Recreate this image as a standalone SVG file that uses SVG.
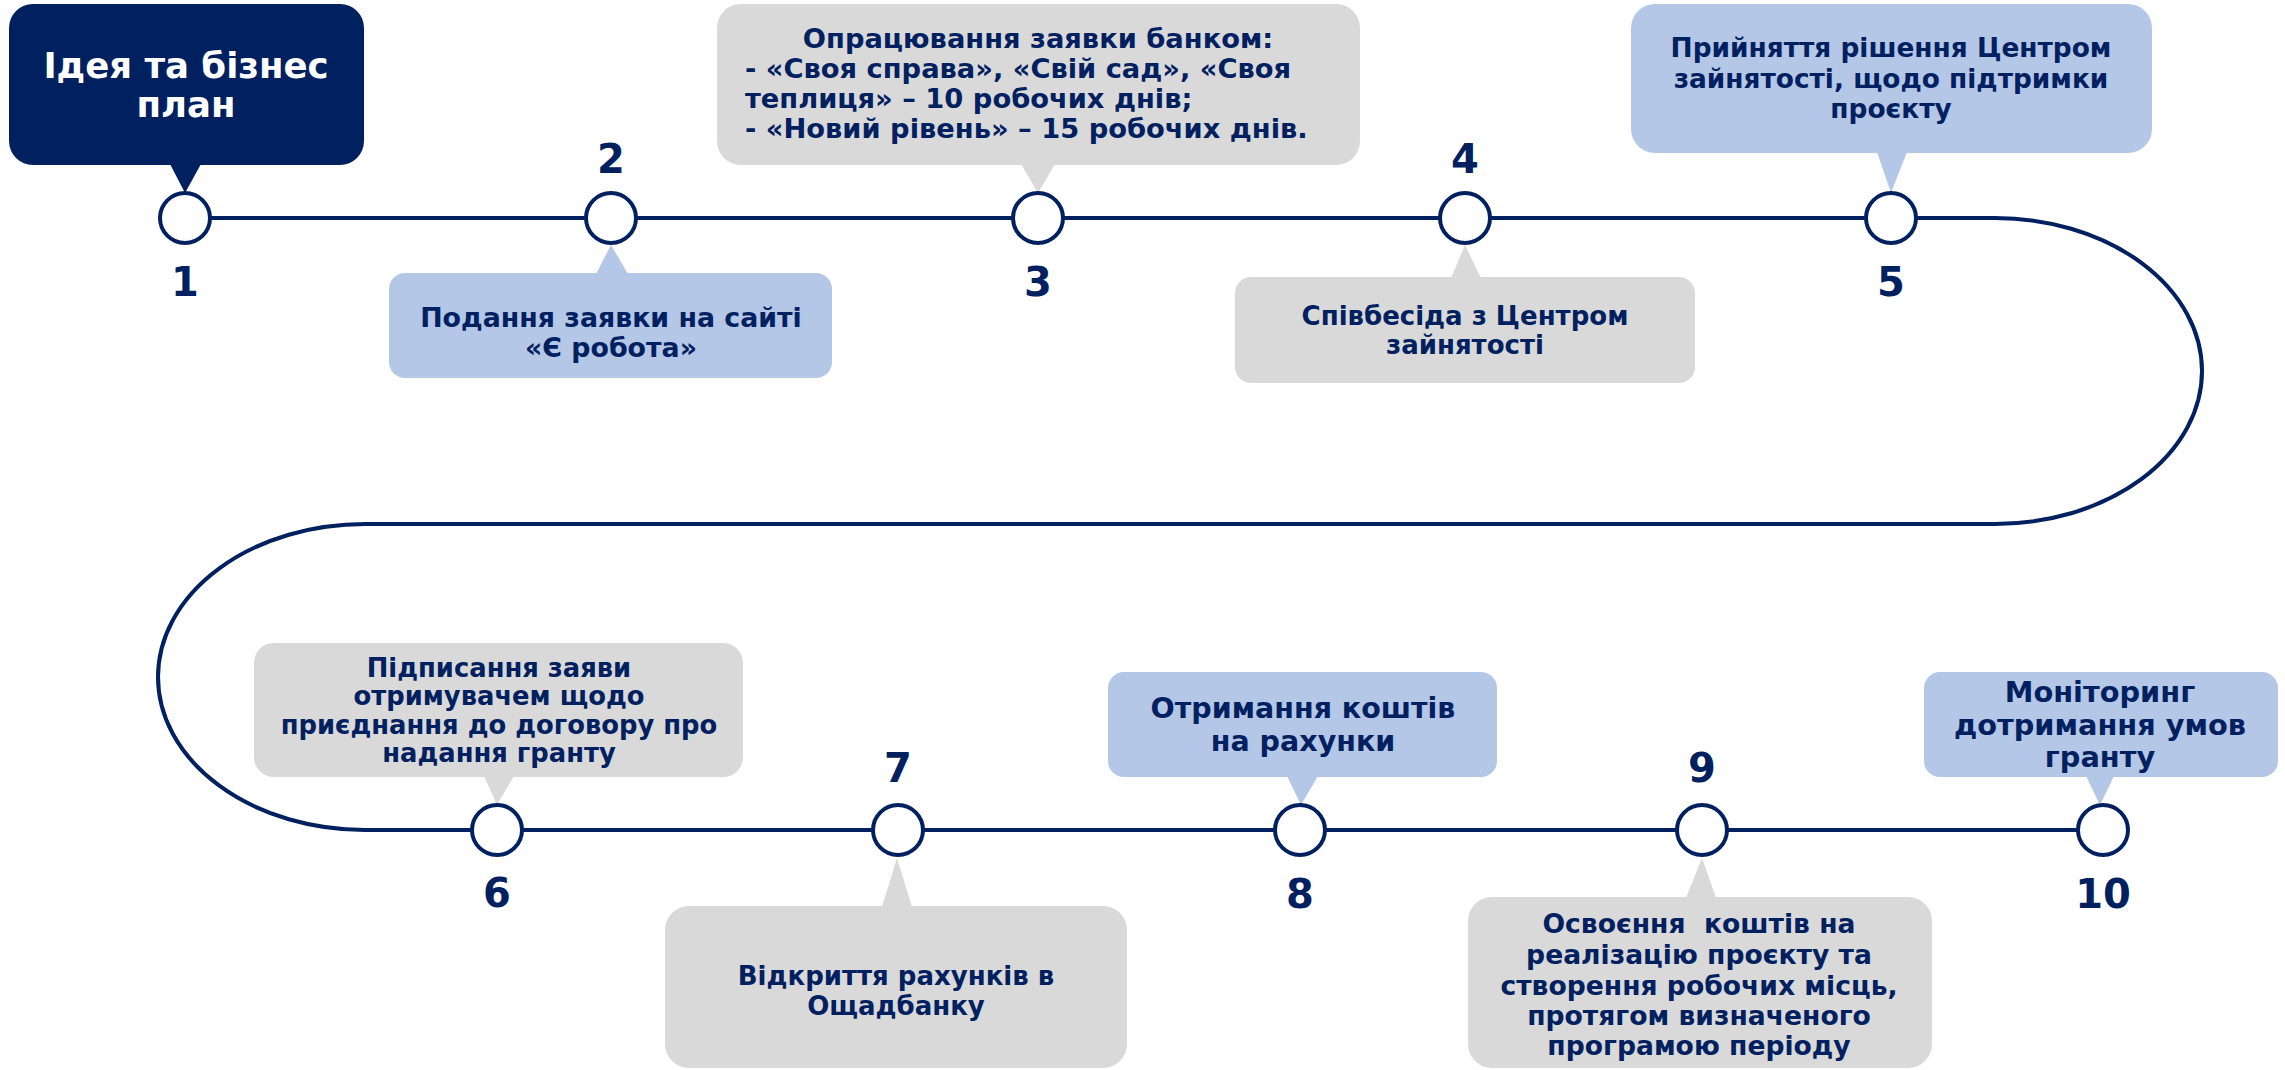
<svg xmlns="http://www.w3.org/2000/svg" width="2285" height="1070" viewBox="0 0 2285 1070">
<style>
.t{font-family:"DejaVu Sans","Noto Sans",sans-serif;font-weight:bold;fill:#002060;text-anchor:middle}
.w{fill:#ffffff}
.num{font-family:"DejaVu Sans","Noto Sans",sans-serif;font-weight:bold;fill:#002060;text-anchor:middle;font-size:40px}
.dk{fill:#002060}
.bl{fill:#B4C7E7}
.gr{fill:#D9D9D9}
.dot{fill:#ffffff;stroke:#002060;stroke-width:4}
.ln{fill:none;stroke:#002060;stroke-width:4}
</style>
<rect width="2285" height="1070" fill="#ffffff"/>
<g id="connectors">
<path class="ln" d="M185,218 H1995 A207,153 0 0 1 1995,524 H365 A207,153 0 0 0 365,830 H2103"/>
</g>
<g id="step1">
<rect class="dk" x="9" y="4" width="355" height="161" rx="24"/>
<polygon class="dk" points="170,164 201,164 185,193"/>
<text class="t w" font-size="35.5"><tspan x="186" y="78">Ідея та бізнес</tspan><tspan x="186" y="117">план</tspan></text>
<circle class="dot" cx="185" cy="218" r="25"/>
<text class="num" x="185" y="296">1</text>
</g>
<g id="step2">
<rect class="bl" x="389" y="273" width="443" height="105" rx="16"/>
<polygon class="bl" points="596,274 628,274 611,245"/>
<text class="t" font-size="26.8"><tspan x="611" y="327">Подання заявки на сайті</tspan><tspan x="611" y="357">«Є робота»</tspan></text>
<circle class="dot" cx="611" cy="218" r="25"/>
<text class="num" x="611" y="173">2</text>
</g>
<g id="step3">
<rect class="gr" x="717" y="4" width="643" height="161" rx="24"/>
<polygon class="gr" points="1021,164 1055,164 1038,193"/>
<text class="t" font-size="27.3"><tspan x="1038" y="48">Опрацювання заявки банком:</tspan><tspan x="745" y="78" text-anchor="start">- «Своя справа», «Свій сад», «Своя</tspan><tspan x="745" y="108" text-anchor="start">теплиця» – 10 робочих днів;</tspan><tspan x="745" y="138" text-anchor="start">- «Новий рівень» – 15 робочих днів.</tspan></text>
<circle class="dot" cx="1038" cy="218" r="25"/>
<text class="num" x="1038" y="296">3</text>
</g>
<g id="step4">
<rect class="gr" x="1235" y="277" width="460" height="106" rx="16"/>
<polygon class="gr" points="1451,278 1481,278 1465,245"/>
<text class="t" font-size="26"><tspan x="1465" y="325">Співбесіда з Центром</tspan><tspan x="1465" y="354">зайнятості</tspan></text>
<circle class="dot" cx="1465" cy="218" r="25"/>
<text class="num" x="1465" y="173">4</text>
</g>
<g id="step5">
<rect class="bl" x="1631" y="4" width="521" height="149" rx="24"/>
<polygon class="bl" points="1877,152 1907,152 1891,193"/>
<text class="t" font-size="26.4"><tspan x="1891" y="57">Прийняття рішення Центром</tspan><tspan x="1891" y="88">зайнятості, щодо підтримки</tspan><tspan x="1891" y="118">проєкту</tspan></text>
<circle class="dot" cx="1891" cy="218" r="25"/>
<text class="num" x="1891" y="296">5</text>
</g>
<g id="step6">
<rect class="gr" x="254" y="643" width="489" height="134" rx="20"/>
<polygon class="gr" points="484,776 514,776 497,805"/>
<text class="t" font-size="25.8"><tspan x="499" y="677">Підписання заяви</tspan><tspan x="499" y="705">отримувачем щодо</tspan><tspan x="499" y="734">приєднання до договору про</tspan><tspan x="499" y="762">надання гранту</tspan></text>
<circle class="dot" cx="497" cy="830" r="25"/>
<text class="num" x="497" y="907">6</text>
</g>
<g id="step7">
<rect class="gr" x="665" y="906" width="462" height="162" rx="24"/>
<polygon class="gr" points="882,907 912,907 897,858"/>
<text class="t" font-size="26"><tspan x="896" y="985">Відкриття рахунків в</tspan><tspan x="896" y="1015">Ощадбанку</tspan></text>
<circle class="dot" cx="898" cy="830" r="25"/>
<text class="num" x="898" y="782">7</text>
</g>
<g id="step8">
<rect class="bl" x="1108" y="672" width="389" height="105" rx="16"/>
<polygon class="bl" points="1287,776 1318,776 1301,805"/>
<text class="t" font-size="28.5"><tspan x="1303" y="718">Отримання коштів</tspan><tspan x="1303" y="751">на рахунки</tspan></text>
<circle class="dot" cx="1300" cy="830" r="25"/>
<text class="num" x="1300" y="908">8</text>
</g>
<g id="step9">
<rect class="gr" x="1468" y="897" width="464" height="171" rx="24"/>
<polygon class="gr" points="1686,898 1716,898 1702,858"/>
<text class="t" font-size="26.6" xml:space="preserve"><tspan x="1699" y="933">Освоєння  коштів на</tspan><tspan x="1699" y="964">реалізацію проєкту та</tspan><tspan x="1699" y="995">створення робочих місць,</tspan><tspan x="1699" y="1025">протягом визначеного</tspan><tspan x="1699" y="1055">програмою періоду</tspan></text>
<circle class="dot" cx="1702" cy="830" r="25"/>
<text class="num" x="1702" y="782">9</text>
</g>
<g id="step10">
<rect class="bl" x="1924" y="672" width="354" height="105" rx="16"/>
<polygon class="bl" points="2086,776 2114,776 2100,805"/>
<text class="t" font-size="28.8"><tspan x="2100" y="702">Моніторинг</tspan><tspan x="2100" y="735">дотримання умов</tspan><tspan x="2100" y="767">гранту</tspan></text>
<circle class="dot" cx="2103" cy="830" r="25"/>
<text class="num" x="2103" y="908">10</text>
</g>
</svg>
